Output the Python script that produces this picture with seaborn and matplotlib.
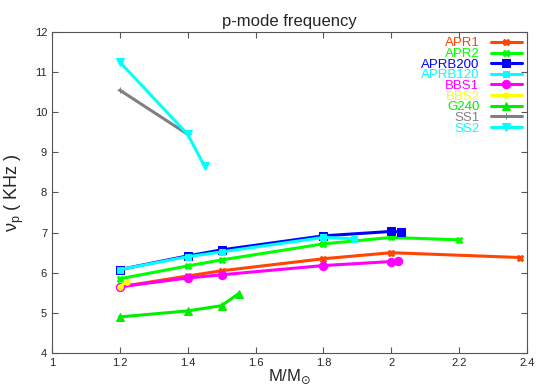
#p-mode frequency vs stellar mass

#import packages
import numpy as np
import pandas as pd
import matplotlib
matplotlib.use("Agg")
import matplotlib.pyplot as plt
import seaborn as sns

#data (mass in solar masses, frequency in kHz)
apr1_m = [1.2, 1.4, 1.5, 1.8, 2.0, 2.38]
apr1_f = [5.65, 5.92, 6.05, 6.35, 6.50, 6.38]
apr2_m = [1.2, 1.4, 1.5, 1.8, 2.0, 2.2]
apr2_f = [5.85, 6.17, 6.32, 6.72, 6.88, 6.82]
aprb200_m = [1.2, 1.4, 1.5, 1.8, 2.0, 2.03]
aprb200_f = [6.08, 6.42, 6.57, 6.92, 7.03, 7.02]
aprb120_m = [1.2, 1.4, 1.5, 1.8, 1.89]
aprb120_f = [6.08, 6.40, 6.52, 6.88, 6.85]
bbs1_m = [1.2, 1.4, 1.5, 1.8, 2.0, 2.02]
bbs1_f = [5.65, 5.87, 5.95, 6.18, 6.28, 6.30]
bbs2_m = [1.2, 1.22]
bbs2_f = [5.65, 5.78]
g240_m = [1.2, 1.4, 1.5, 1.55]
g240_f = [4.90, 5.05, 5.18, 5.48]
ss1_m = [1.2, 1.4]
ss1_f = [10.55, 9.45]
ss2_m = [1.2, 1.4, 1.45]
ss2_f = [11.25, 9.45, 8.65]

series = [
    ("APR1", apr1_m, apr1_f, "#ff4500", "X", 5),
    ("APR2", apr2_m, apr2_f, "#00ff00", "X", 5),
    ("APRB200", aprb200_m, aprb200_f, "#0000ff", "s", 6),
    ("APRB120", aprb120_m, aprb120_f, "#00ffff", "s", 4),
    ("BBS1", bbs1_m, bbs1_f, "#ff00ff", "o", 6),
    ("BBS2", bbs2_m, bbs2_f, "#ffff00", "o", 4),
    ("G240", g240_m, g240_f, "#00ee00", "^", 6),
    ("SS1", ss1_m, ss1_f, "#808080", "+", 5),
    ("SS2", ss2_m, ss2_f, "#00ffff", "v", 6),
]

sns.set_style("ticks")
plt.rcParams['font.family'] = ['Liberation Sans', 'DejaVu Sans']

fig = plt.figure(figsize=(5.5, 3.85), dpi=100)
ax = fig.add_axes([0.0945, 0.083, 0.8635, 0.834])

for name, m, f, col, mk, ms in series:
    df = pd.DataFrame({"mass": m, "freq": f})
    sns.lineplot(data=df, x="mass", y="freq", ax=ax, color=col, marker=mk,
                 markersize=ms, markeredgecolor=col, linewidth=2.2,
                 sort=False, label=name)

ax.set_xlim(1, 2.4)
ax.set_ylim(4, 12)
ax.set_xticks(np.arange(1, 2.41, 0.2))
ax.set_xticklabels(["1", "1.2", "1.4", "1.6", "1.8", "2", "2.2", "2.4"])
ax.set_yticks(range(4, 13))
ax.tick_params(direction="in", top=True, right=True, labelsize=8, length=4,
               color="#555555")
for s in ax.spines.values():
    s.set_color("#555555")

ax.set_title("p-mode frequency", fontsize=12, pad=4)
ax.set_xlabel(r"M/M$_{\odot}$", fontsize=12, labelpad=0)
ax.set_ylabel(r"$\mathregular{\nu_p}$ ( KHz )", fontsize=13, labelpad=6)

leg = ax.legend(loc="upper right", frameon=False, markerfirst=False,
                labelcolor="linecolor", fontsize=9.5, handlelength=2.3,
                labelspacing=-0.12, borderaxespad=0.1, handletextpad=0.9,
                borderpad=0.3)

fig.savefig("out.png", dpi=100)
